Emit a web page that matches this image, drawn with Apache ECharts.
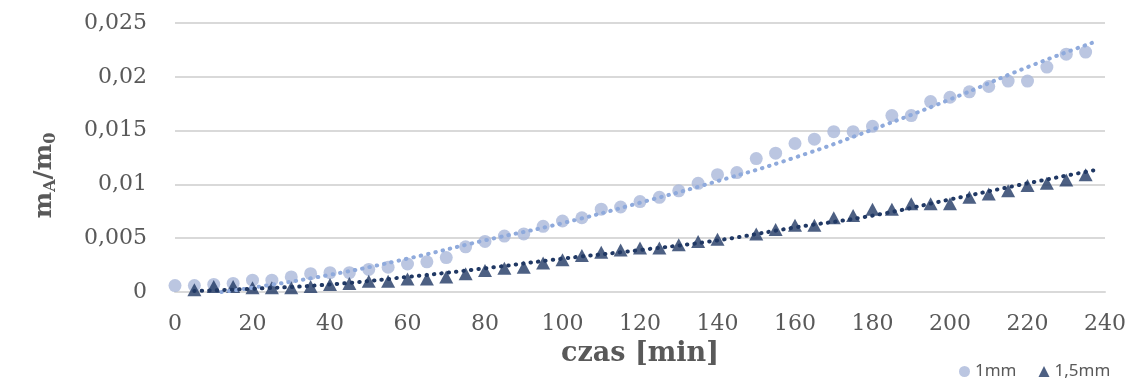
<!DOCTYPE html>
<html>
<head>
<meta charset="utf-8">
<script src="https://cdn.jsdelivr.net/npm/echarts@6/dist/echarts.min.js"></script>
<style>
  html, body { margin: 0; padding: 0; background: #fff; }
  #chart { width: 1131px; height: 378px; }
</style>
</head>
<body>
<div id="chart"></div>
<script>
// czas pomiaru [min] i względny przyrost masy mA/m0
const czas1mm = [0, 5, 10, 15, 20, 25, 30, 35, 40, 45, 50, 55, 60, 65, 70, 75, 80, 85, 90, 95,
  100, 105, 110, 115, 120, 125, 130, 135, 140, 145, 150, 155, 160, 165, 170, 175, 180, 185, 190, 195,
  200, 205, 210, 215, 220, 225, 230, 235];
const masa1mm = [0.0006, 0.0006, 0.0007, 0.0008, 0.0011, 0.0011, 0.0014, 0.0017, 0.0018, 0.0018,
  0.0021, 0.0023, 0.0026, 0.0028, 0.0032, 0.0042, 0.0047, 0.0052, 0.0054, 0.0061,
  0.0066, 0.0069, 0.0077, 0.0079, 0.0084, 0.0088, 0.0094, 0.0101, 0.0109, 0.0111,
  0.0124, 0.0129, 0.0138, 0.0142, 0.0149, 0.0149, 0.0154, 0.0164, 0.0164, 0.0177,
  0.0181, 0.0186, 0.0191, 0.0196, 0.0196, 0.0209, 0.0221, 0.0223];

const czas15mm = [5, 10, 15, 20, 25, 30, 35, 40, 45, 50, 55, 60, 65, 70, 75, 80, 85, 90, 95,
  100, 105, 110, 115, 120, 125, 130, 135, 140, 150, 155, 160, 165, 170, 175, 180, 185, 190, 195,
  200, 205, 210, 215, 220, 225, 230, 235];
const masa15mm = [0.0002, 0.0005, 0.0005, 0.0004, 0.0004, 0.0004, 0.0005, 0.0007, 0.0008, 0.0010,
  0.0010, 0.0012, 0.0012, 0.0014, 0.0017, 0.0020, 0.0022, 0.0023, 0.0027, 0.0030,
  0.0034, 0.0037, 0.0039, 0.0041, 0.0041, 0.0044, 0.0047, 0.0049, 0.0054, 0.0058,
  0.0062, 0.0062, 0.0069, 0.0071, 0.0077, 0.0077, 0.0082, 0.0082, 0.0082, 0.0088,
  0.0091, 0.0094, 0.0099, 0.0101, 0.0104, 0.0109];

// linie trendu
const trendCzas1mm = [12, 20, 40, 60, 80, 100, 120, 140, 160, 180, 200, 220, 237];
const trendMasa1mm = [0, 0.0004, 0.0016, 0.0031, 0.0048, 0.0064, 0.0083, 0.0103, 0.0125, 0.0151, 0.0179, 0.0209, 0.0232];
const trendCzas15mm = [5, 20, 40, 60, 80, 100, 120, 140, 160, 180, 200, 220, 237];
const trendMasa15mm = [0.0001, 0.0003, 0.0007, 0.0014, 0.0022, 0.0031, 0.0039, 0.0048, 0.0060, 0.0071, 0.0086, 0.0101, 0.0113];

// osie
const xTicks = [0, 20, 40, 60, 80, 100, 120, 140, 160, 180, 200, 220, 240];
const yTicks = [0, 0.005, 0.01, 0.015, 0.02, 0.025];
const yTickLabels = ['0', '0,005', '0,01', '0,015', '0,02', '0,025'];

const pairs = (xs, ys) => xs.map((x, i) => [x, ys[i]]);

const serif = 'DejaVu Serif';
const chart = echarts.init(document.getElementById('chart'));

const option = {
  animation: false,
  backgroundColor: '#fff',
  grid: { left: 175, right: 26, top: 23, bottom: 86 },
  legend: {
    data: [
      { name: '1mm', icon: 'circle' },
      { name: '1,5mm', icon: 'triangle' }
    ],
    left: 954,
    top: 358,
    itemWidth: 11,
    itemHeight: 11,
    itemGap: 22,
    textStyle: { fontFamily: 'Noto Sans', fontSize: 17, color: '#595959' }
  },
  xAxis: {
    type: 'value',
    min: xTicks[0],
    max: xTicks[xTicks.length - 1],
    interval: xTicks[1] - xTicks[0],
    name: 'czas [min]',
    nameLocation: 'middle',
    nameGap: 48,
    nameTextStyle: { fontFamily: serif, fontSize: 27, fontWeight: 'bold', color: '#595959' },
    axisLine: { show: true, lineStyle: { color: '#D9D9D9', width: 2 } },
    axisTick: { show: false },
    splitLine: { show: false },
    axisLabel: { fontFamily: serif, fontSize: 22, color: '#595959', margin: 21 }
  },
  yAxis: {
    type: 'value',
    min: yTicks[0],
    max: yTicks[yTicks.length - 1],
    interval: yTicks[1] - yTicks[0],
    name: '{m|m}{s|A}{m|/m}{s|0}',
    nameLocation: 'middle',
    nameRotate: 90,
    nameGap: 116,
    nameTextStyle: {
      padding: [0, 36, 0, 0],
      rich: {
        m: { fontFamily: serif, fontSize: 25, fontWeight: 'bold', color: '#595959', lineHeight: 30 },
        s: { fontFamily: serif, fontSize: 16, fontWeight: 'bold', color: '#595959', lineHeight: 16, padding: [13, 0, 0, 0] }
      }
    },
    axisLine: { show: false },
    axisTick: { show: false },
    splitLine: { lineStyle: { color: '#D9D9D9', width: 2 } },
    axisLabel: {
      fontFamily: serif, fontSize: 22, color: '#595959', margin: 28,
      formatter: (v) => {
        const i = yTicks.findIndex(t => Math.abs(t - v) < 1e-9);
        return i >= 0 ? yTickLabels[i] : '';
      }
    }
  },
  series: [
    {
      name: '1mm',
      type: 'scatter',
      symbol: 'circle',
      symbolSize: 13,
      itemStyle: { color: '#AAB8D9' },
      data: pairs(czas1mm, masa1mm),
      z: 2
    },
    {
      name: '1,5mm',
      type: 'scatter',
      symbol: 'triangle',
      symbolSize: [14, 13],
      itemStyle: { color: '#203864' },
      data: pairs(czas15mm, masa15mm),
      z: 3
    },
    {
      name: 'trend 1mm',
      type: 'line',
      smooth: true,
      symbol: 'none',
      clip: true,
      lineStyle: { color: '#8FAADC', width: 4, type: [0.5, 7], cap: 'round' },
      data: pairs(trendCzas1mm, trendMasa1mm),
      z: 4
    },
    {
      name: 'trend 1,5mm',
      type: 'line',
      smooth: true,
      symbol: 'none',
      clip: true,
      lineStyle: { color: '#203864', width: 4, type: [0.5, 7], cap: 'round' },
      data: pairs(trendCzas15mm, trendMasa15mm),
      z: 4
    }
  ]
};

chart.setOption(option);
</script>
</body>
</html>
